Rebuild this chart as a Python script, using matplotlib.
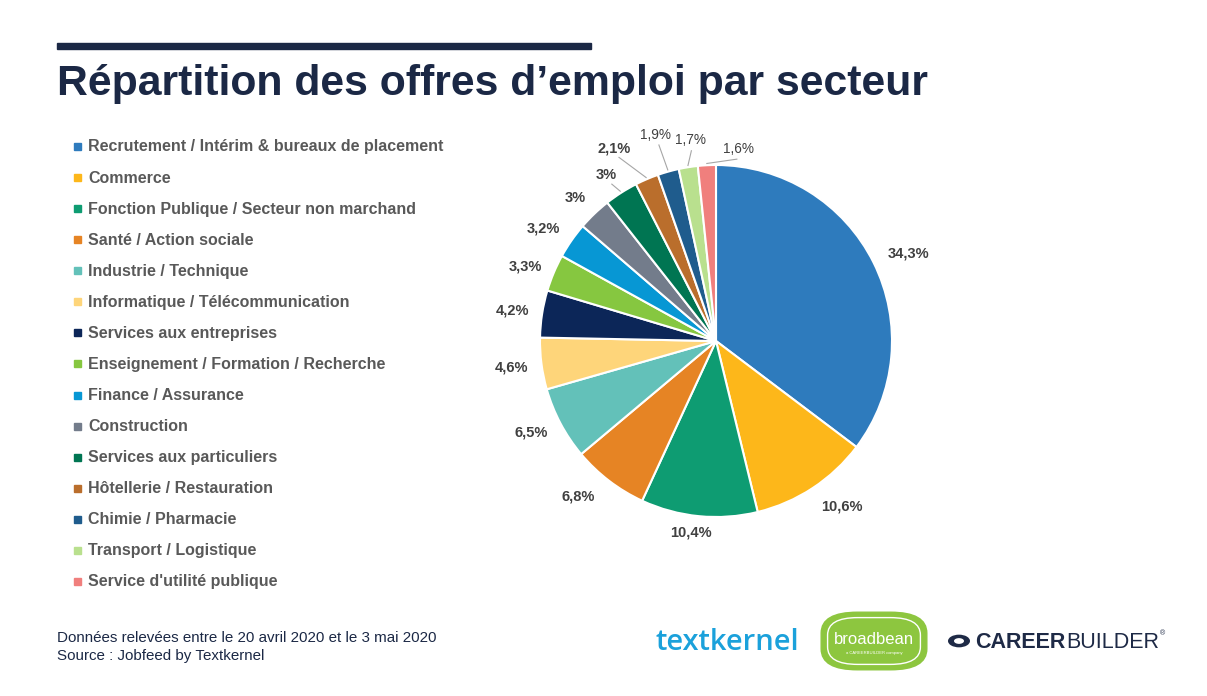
import numpy as np
import matplotlib.pyplot as plt
from matplotlib.patches import Rectangle, FancyBboxPatch, Circle

plt.rcParams['font.family'] = ['Liberation Sans', 'DejaVu Sans']

secteurs = [
    "Recrutement / Intérim & bureaux de placement",
    "Commerce",
    "Fonction Publique / Secteur non marchand",
    "Santé / Action sociale",
    "Industrie / Technique",
    "Informatique / Télécommunication",
    "Services aux entreprises",
    "Enseignement / Formation / Recherche",
    "Finance / Assurance",
    "Construction",
    "Services aux particuliers",
    "Hôtellerie / Restauration",
    "Chimie / Pharmacie",
    "Transport / Logistique",
    "Service d'utilité publique",
]
parts = [34.3, 10.6, 10.4, 6.8, 6.5, 4.6, 4.2, 3.3, 3.2, 3, 3, 2.1, 1.9, 1.7, 1.6]
etiquettes = ["34,3%", "10,6%", "10,4%", "6,8%", "6,5%", "4,6%", "4,2%", "3,3%",
              "3,2%", "3%", "3%", "2,1%", "1,9%", "1,7%", "1,6%"]

couleurs = ["#2E7BBD", "#FDB71A", "#0E9C72", "#E68424", "#63C1B9", "#FED57A",
            "#0C2658", "#86C740", "#0797D4", "#737C8B", "#007552", "#BA6E2C",
            "#1F5C8D", "#B9E08E", "#F07F7D"]

W, H = 1207, 696
fig = plt.figure(figsize=(W / 100, H / 100), dpi=100)
fig.patch.set_facecolor("white")

def px(x, y):
    return x / W, 1 - y / H

# barre + titre
fig.patches.append(Rectangle(px(57, 49), (591 - 57) / W, 6 / H, transform=fig.transFigure,
                             color="#1B2845", zorder=2))
fig.text(*px(57, 84), "Répartition des offres d\u2019emploi par secteur", fontsize=30.8,
         fontweight="bold", color="#1B2845", va="center", ha="left")

# legende
for i, (nom, c) in enumerate(zip(secteurs, couleurs)):
    y = 146 + i * 31.07
    fig.patches.append(Rectangle(px(74, y + 4), 7 / W, 7 / H, transform=fig.transFigure,
                                 color=c))
    fig.text(*px(88, y + 1), nom, fontsize=11.5, fontweight="bold", color="#595959",
             va="center", ha="left")

# camembert
r_px = 176
cx, cy = 716, 341
half = 1.5 * r_px
ax = fig.add_axes([(cx - half) / W, (H - cy - half) / H, 2 * half / W, 2 * half / H])

wedges, _ = ax.pie(parts, colors=couleurs, startangle=90, counterclock=False,
                   radius=1.0, wedgeprops=dict(edgecolor="white", linewidth=1.5))
ax.set_xlim(-1.5, 1.5)
ax.set_ylim(-1.5, 1.5)
ax.set_aspect("equal")
ax.axis("off")

# reglages des etiquettes (decalage angulaire en degres, distance)
decal = [-2, 4, -2, -4, -1.5, 0, 0.5, 1.4, 1.7, 1, 1, 4.7, 0.5, -1.7, -9.5]
dist = [1.2, 1.18, 1.1, 1.18, 1.17, 1.17, 1.17, 1.165, 1.17, 1.14, 1.13, 1.24, 1.22, 1.15, 1.10]
gras = [True] * 12 + [False] * 3
for i, w in enumerate(wedges):
    th = np.deg2rad((w.theta1 + w.theta2) / 2)
    tl = th + np.deg2rad(decal[i])
    x, y = dist[i] * np.cos(tl), dist[i] * np.sin(tl)
    ax.text(x, y, etiquettes[i], ha="center", va="center", fontsize=10.5 if gras[i] else 9.8,
            fontweight="bold" if gras[i] else "normal", color="#404040")
    if i >= 10:
        x0, y0 = 1.01 * np.cos(th), 1.01 * np.sin(th)
        x1, y1 = (dist[i] - 0.06) * np.cos(tl), (dist[i] - 0.06) * np.sin(tl)
        ax.plot([x0, x1], [y0, y1], color="#A6A6A6", lw=0.8)

# pied de page
fig.text(*px(57, 638), "Données relevées entre le 20 avril 2020 et le 3 mai 2020",
         fontsize=10.9, color="#1B2845", va="center")
fig.text(*px(57, 656), "Source : Jobfeed by Textkernel", fontsize=10.9, color="#1B2845",
         va="center")

# logos
fig.text(*px(655, 643), "textkernel", fontsize=21, color="#1BA1DB", va="center",
         family=["Open Sans", "DejaVu Sans"], fontweight="semibold")
fig.patches.append(FancyBboxPatch(px(826, 667), 96 / W, 52 / H,
                                  boxstyle="round,pad=0.004,rounding_size=0.03",
                                  transform=fig.transFigure, facecolor="#8DC63F",
                                  edgecolor="#8DC63F", lw=1))
fig.patches.append(FancyBboxPatch(px(830, 663), 88 / W, 44 / H,
                                  boxstyle="round,pad=0.002,rounding_size=0.025",
                                  transform=fig.transFigure, facecolor="#8DC63F",
                                  edgecolor="white", lw=1))
fig.text(*px(874, 640), "broadbean", fontsize=12, color="white", ha="center", va="center")
fig.text(*px(874, 653), "a CAREERBUILDER company", fontsize=3, color="white",
         ha="center", va="center")
fig.patches.append(Circle(px(959, 641), 11 / W, transform=fig.transFigure,
                          facecolor="#1E2A46"))
fig.patches.append(Circle(px(959, 641), 5 / W, transform=fig.transFigure,
                          facecolor="white"))
t1 = fig.text(*px(975, 642), "CAREER", fontsize=15.5, fontweight="bold", color="#1E2A46",
              va="center", ha="left")
rend = fig.canvas.get_renderer()
bb = t1.get_window_extent(rend)
fig.text(bb.x1 / W + 1 / W, px(0, 642)[1], "BUILDER", fontsize=15.5, color="#1E2A46",
         va="center", ha="left")
fig.text(*px(1160, 634), "®", fontsize=5, color="#1E2A46", va="center", ha="left")

fig.savefig("out.png", dpi=100, facecolor="white")
